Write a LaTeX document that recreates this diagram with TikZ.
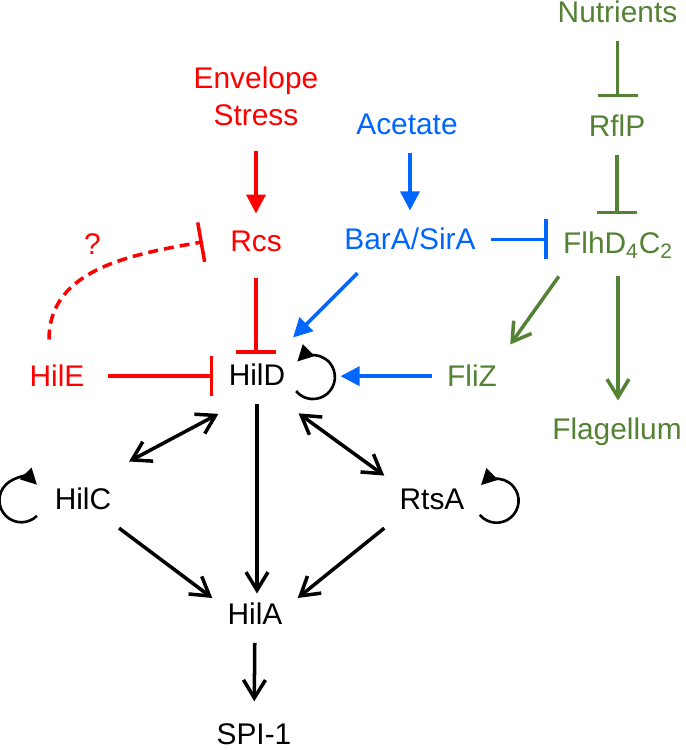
\documentclass[tikz,border=0pt]{standalone}
\usepackage{fontspec}
\setmainfont{Liberation Sans}
\usetikzlibrary{arrows.meta}
\definecolor{stressred}{RGB}{255,0,0}
\definecolor{acetblue}{RGB}{0,102,255}
\definecolor{flagreen}{RGB}{84,130,53}

\begin{document}
\begin{tikzpicture}[
	gene/.style={font=\fontsize{17}{21}\selectfont, anchor=base, inner xsep=0.3cm, inner ysep=0.35cm},
	act/.style={line width=2pt, -{Triangle[length=0.38cm,width=0.38cm]}},
	inh/.style={line width=2pt, -{Bar[width=0.8cm]}},
	ind/.style={line width=2pt, -{Straight Barb[length=0.36cm,width=0.44cm]}},
	both/.style={line width=2pt, {Straight Barb[length=0.36cm,width=0.44cm]}-{Straight Barb[length=0.36cm,width=0.44cm]}},
	autoloop/.style={line width=1.5pt, -{Triangle[length=0.32cm,width=0.32cm]}}]
			\useasboundingbox (0,0) rectangle (13.7,15);
			\node[gene,stressred,anchor=center,align=center] (envstress) at (5.12,13.08) {Envelope\\Stress};
			\node[gene,flagreen] (nutrients) at (12.35,14.54) {Nutrients};
			\node[gene,flagreen] (rflp) at (12.34,12.26) {RflP};
			\node[gene,flagreen] (flhdc) at (12.36,9.92) {FlhD\textsubscript{4}C\textsubscript{2}};
			\node[gene,acetblue] (acetate) at (8.14,12.3) {Acetate};
			\node[gene,stressred] (rcs) at (5.12,9.96) {Rcs};
			\node[gene,acetblue] (barasira) at (8.2,10.0) {BarA/SirA};
			\node[gene,stressred] (q) at (1.85,9.9) {?};
			\node[gene,stressred] (hile) at (1.14,7.26) {HilE};
			\node[gene] (hild) at (5.14,7.28) {HilD};
			\node[gene,flagreen] (fliz) at (9.44,7.26) {FliZ};
			\node[gene,flagreen] (flagellum) at (12.34,6.2) {Flagellum};
			\node[gene] (hilc) at (1.66,4.8) {HilC};
			\node[gene] (rtsa) at (8.64,4.8) {RtsA};
			\node[gene] (hila) at (5.1,2.5) {HilA};
			\node[gene] (spi) at (5.08,0.12) {SPI-1};
			\draw[act,stressred,shorten <=0.15cm] (envstress) -- (rcs);
			\draw[act,acetblue] (barasira.north |- acetate.south) -- (barasira.north);
			\draw[inh,stressred,shorten <=0.15cm,shorten >=-0.15cm] (rcs.south) -- (rcs.south |- hild.north);
			\draw[inh,stressred,shorten <=0.16cm] (hile.east) -- (hile.east -| hild.west);
			\draw[inh,stressred,dash pattern=on 0.2cm off 0.12cm] ([xshift=-0.16cm,yshift=0.16cm]hile.north) to[out=90,in=190] ([xshift=-0.24cm]rcs.west);
			\draw[act,acetblue] ([xshift=-1.05cm,yshift=-0.1cm]barasira.south) -- ([xshift=-0.15cm,yshift=0.18cm]hild.north east);
			\draw[inh,acetblue] (barasira.east) -- (barasira.east -| flhdc.west);
			\draw[inh,flagreen] (nutrients.south) -- (nutrients.south |- rflp.north);
			\draw[inh,flagreen] (rflp.south) -- (rflp.south |- flhdc.north);
			\draw[ind,flagreen] ([xshift=0.22cm]flhdc.south west) -- ([xshift=-0.04cm,yshift=0.06cm]fliz.north east);
			\draw[ind,flagreen] (flhdc.south) -- (flhdc.south |- flagellum.north);
			\draw[act,acetblue,shorten >=0.8cm] (fliz.west) -- (fliz.west -| hild.east);
			\draw[autoloop] ([shift={(-0.09,-0.32)}]hild.east) arc[start angle=-140,end angle=135,radius=0.44];
			\draw[autoloop] ([shift={(-0.05,-0.33)}]hilc.west) arc[start angle=-45,end angle=-315,radius=0.44];
			\draw[autoloop] ([shift={(0.0,-0.3)}]rtsa.east) arc[start angle=-140,end angle=135,radius=0.44];
			\draw[both] ([xshift=0.1cm,yshift=-0.2cm]hild.south west) -- ([xshift=0.05cm,yshift=0.18cm]hilc.north east);
			\draw[both] ([xshift=-0.04cm,yshift=-0.19cm]hild.south east) -- ([yshift=-0.08cm]rtsa.north west);
			\draw[ind,shorten >=-0.16cm] (hild.south) -- (hild.south |- hila.north);
			\draw[ind] ([xshift=-0.15cm]hilc.south east) -- ([yshift=-0.25cm]hila.north west);
			\draw[ind] (rtsa.south west) -- ([yshift=-0.25cm]hila.north east);
			\draw[ind,shorten >=0.08cm] (hila) -- (spi);
		\end{tikzpicture}
\end{document}
